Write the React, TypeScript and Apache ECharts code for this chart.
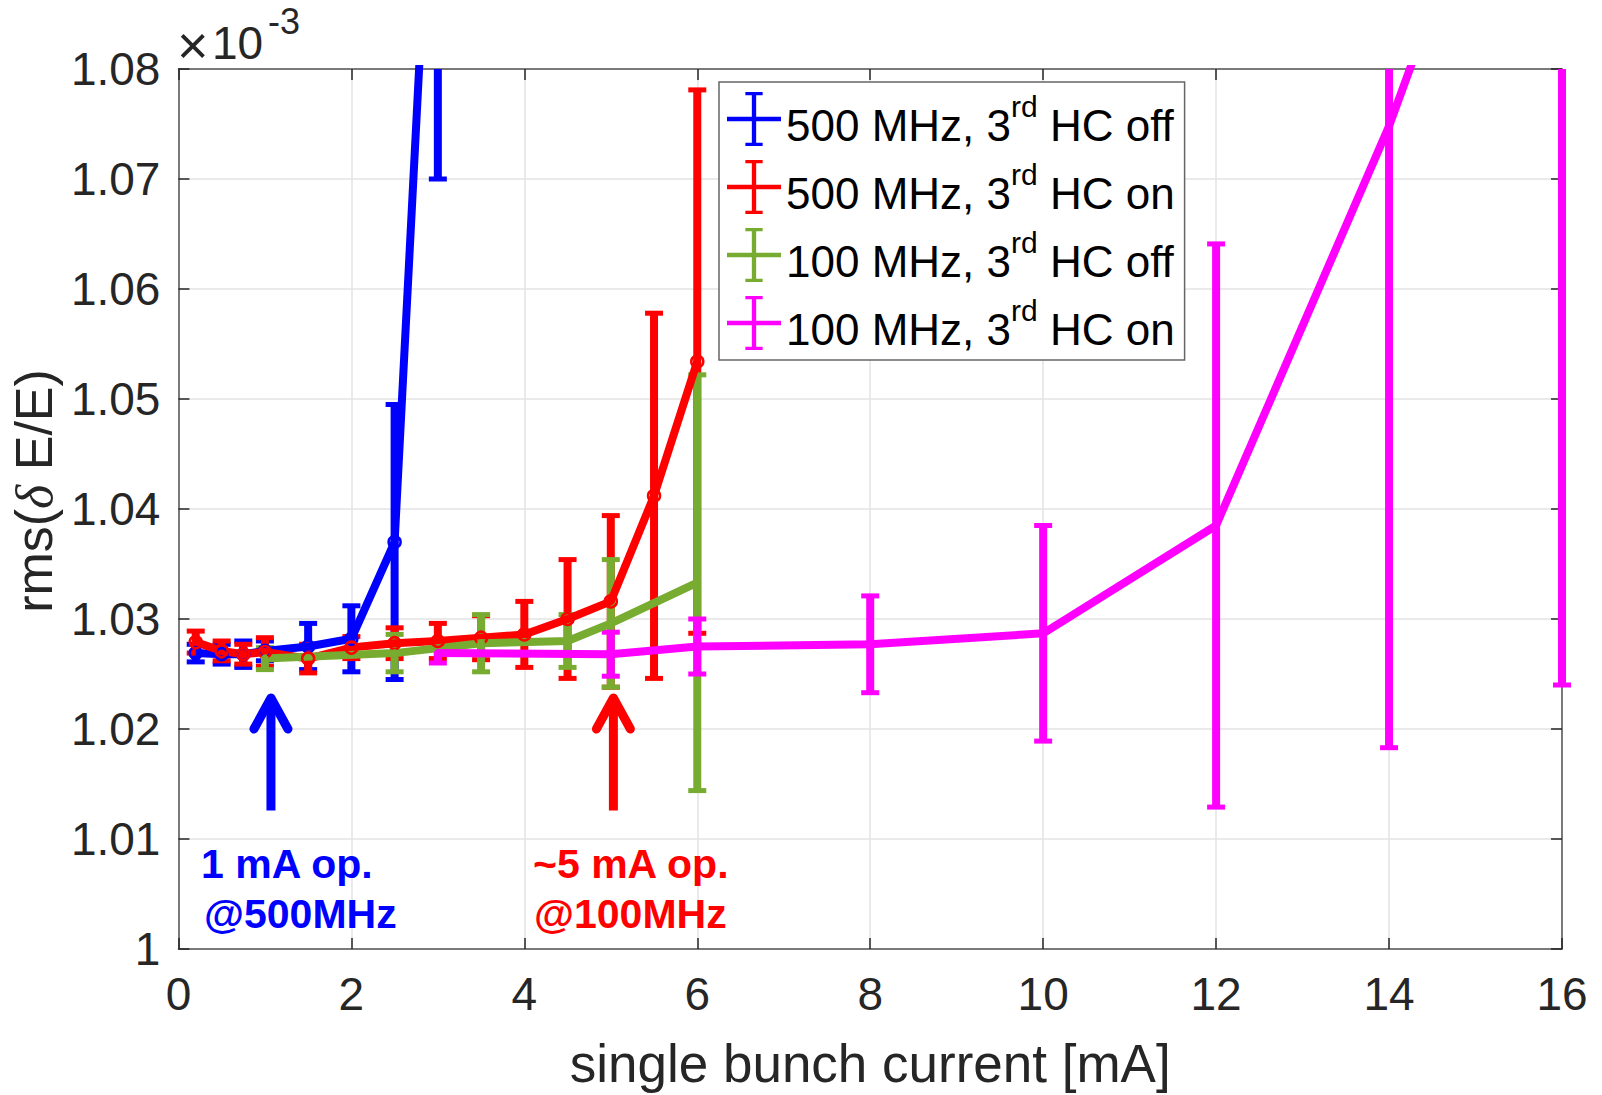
import React, { useEffect, useRef } from 'react';
import * as echarts from 'echarts';

// ---- data (values in units of 1e-3) ----
const blueX = [0.2, 0.5, 0.75, 1, 1.5, 2, 2.5, 3];
const blueY = [1.0269, 1.0268, 1.0268, 1.0271, 1.0275, 1.0282, 1.037, 1.113];
const blueErr = [0.0008, 0.0009, 0.0012, 0.0009, 0.0021, 0.003, 0.0125, 0.043];

const redX = [0.2, 0.5, 0.75, 1, 1.5, 2, 2.5, 3, 3.5, 4, 4.5, 5, 5.5, 6];
const redY = [1.0279, 1.0271, 1.0268, 1.027, 1.0264, 1.0274, 1.0278, 1.028, 1.0283, 1.0286, 1.03, 1.0316, 1.0412, 1.0534];
const redErr = [0.001, 0.0009, 0.0009, 0.0013, 0.0013, 0.001, 0.0014, 0.0016, 0.002, 0.003, 0.0054, 0.0078, 0.0166, 0.0247];

const greenX = [1, 2.5, 3.5, 4.5, 5, 6];
const greenY = [1.0264, 1.0269, 1.0278, 1.028, 1.0296, 1.0333];
const greenErr = [0.001, 0.0017, 0.0026, 0.0024, 0.0058, 0.0189];

const magX = [3, 5, 6, 8, 10, 12, 14, 16];
const magY = [1.0269, 1.0268, 1.0275, 1.0277, 1.0287, 1.0385, 1.0748, 1.118];
const magErr = [0.0009, 0.002, 0.0025, 0.0044, 0.0098, 0.0256, 0.0565, 0.094];

const seriesNames = ['500 MHz, 3rd HC off', '500 MHz, 3rd HC on', '100 MHz, 3rd HC off', '100 MHz, 3rd HC on'];
const legendRich = [
  '{a|500 MHz, 3}{s|rd}{a| HC off}',
  '{a|500 MHz, 3}{s|rd}{a| HC on}',
  '{a|100 MHz, 3}{s|rd}{a| HC off}',
  '{a|100 MHz, 3}{s|rd}{a| HC on}',
];
const colors = ['#0000ff', '#ff0000', '#77ac30', '#ff00ff'];

const xMin = 0, xMax = 16, xInterval = 2;
const yMin = 1.0, yMax = 1.08, yInterval = 0.01;

// annotation arrows: x position, base y, tip y
const arrowX = [1.07, 5.03];
const arrowBaseY = 1.0126;
const arrowTipY = 1.023;
const arrowColors = ['#0000ff', '#ff0000'];

const FONT = '"Liberation Sans", Arial, Helvetica, sans-serif';
const AXIS_COLOR = '#262626';

const ERRBAR_ICON = 'path://M0,46L100,46L100,54L0,54Z M46,0L54,0L54,100L46,100Z M34,0L66,0L66,6L34,6Z M34,94L66,94L66,100L34,100Z';

function errorSeries(name: string, color: string, xs: number[], ys: number[], es: number[]) {
  return {
    type: 'custom',
    name: name + ' error',
    xAxisIndex: 0,
    yAxisIndex: 0,
    data: xs.map((x, i) => [x, ys[i], es[i]]),
    encode: { x: 0, y: 1 },
    clip: false,
    silent: true,
    renderItem: (params: any, api: any) => {
      const x = api.value(0);
      const y = api.value(1);
      const e = api.value(2);
      const cs = params.coordSys;
      const top = cs.y;
      const bottom = cs.y + cs.height;
      const p1 = api.coord([x, y + e]);
      const p2 = api.coord([x, y - e]);
      const y1 = Math.max(p1[1], top);
      const y2 = Math.min(p2[1], bottom);
      const children: any[] = [];
      if (y2 > y1) {
        children.push({
          type: 'line',
          shape: { x1: p1[0], y1, x2: p1[0], y2 },
          style: { stroke: color, lineWidth: 8 },
        });
      }
      if (p1[1] >= top && p1[1] <= bottom) {
        children.push({
          type: 'line',
          shape: { x1: p1[0] - 9, y1: p1[1], x2: p1[0] + 9, y2: p1[1] },
          style: { stroke: color, lineWidth: 5 },
        });
      }
      if (p2[1] <= bottom && p2[1] >= top) {
        children.push({
          type: 'line',
          shape: { x1: p2[0] - 9, y1: p2[1], x2: p2[0] + 9, y2: p2[1] },
          style: { stroke: color, lineWidth: 5 },
        });
      }
      return { type: 'group', children };
    },
  };
}

function lineSeries(name: string, color: string, xs: number[], ys: number[], hollow: boolean) {
  return {
    type: 'line',
    name,
    xAxisIndex: 0,
    yAxisIndex: 0,
    data: xs.map((x, i) => [x, ys[i]]),
    clip: true,
    symbol: 'circle',
    symbolSize: hollow ? 12 : 8,
    showSymbol: true,
    itemStyle: hollow
      ? { color: 'rgba(0,0,0,0)', borderColor: color, borderWidth: 2.5 }
      : { color, borderWidth: 0 },
    lineStyle: { color, width: 8 },
    color,
  };
}

export default function App() {
  const ref = useRef<HTMLDivElement>(null);
  useEffect(() => {
    if (!ref.current) return;
    const chart = echarts.init(ref.current, undefined, { renderer: 'svg' });
    const sets = [
      [blueX, blueY, blueErr, true],
      [redX, redY, redErr, true],
      [greenX, greenY, greenErr, false],
      [magX, magY, magErr, false],
    ] as any[];
    const series: any[] = [];
    sets.forEach((s, i) => {
      series.push(errorSeries(seriesNames[i], colors[i], s[0], s[1], s[2]));
      series.push(lineSeries(seriesNames[i], colors[i], s[0], s[1], s[3]));
    });

    const axisCommon = {
      axisLine: { show: true, onZero: false, lineStyle: { color: '#555', width: 1.5 } },
      axisTick: { show: true, inside: true, length: 11, lineStyle: { color: AXIS_COLOR, width: 1.5 } },
    };

    chart.setOption({
      animation: false,
      backgroundColor: '#ffffff',
      grid: { left: 177, right: 40, top: 69, bottom: 143, containLabel: false },
      xAxis: [
        {
          type: 'value', min: xMin, max: xMax, interval: xInterval, position: 'bottom',
          ...axisCommon,
          axisLabel: { fontSize: 46, fontFamily: FONT, color: AXIS_COLOR, margin: 22 },
          splitLine: { show: true, lineStyle: { color: '#e3e3e3', width: 1.5 } },
          name: 'single bunch current [mA]',
          nameLocation: 'middle',
          nameGap: 88,
          nameTextStyle: { fontSize: 53, fontFamily: FONT, color: AXIS_COLOR },
        },
        {
          type: 'value', min: xMin, max: xMax, interval: xInterval, position: 'top',
          ...axisCommon,
          axisLabel: { show: false },
          splitLine: { show: false },
        },
      ],
      yAxis: [
        {
          type: 'value', min: yMin, max: yMax, interval: yInterval, position: 'left',
          ...axisCommon,
          axisLabel: {
            fontSize: 46, fontFamily: FONT, color: AXIS_COLOR, margin: 18,
            formatter: (v: number) => (Math.abs(v - 1) < 1e-9 ? '1' : v.toFixed(2)),
          },
          splitLine: { show: true, lineStyle: { color: '#e3e3e3', width: 1.5 } },
          name: '{a|rms(}{d|δ}{a| E/E)}',
          nameLocation: 'middle',
          nameGap: 112,
          nameRotate: 90,
          nameTextStyle: {
            padding: [0, 0, 0, 36],
            rich: {
              a: { fontSize: 52, fontFamily: FONT, color: AXIS_COLOR },
              d: { fontSize: 52, fontFamily: '"Liberation Serif", serif', fontStyle: 'italic', color: AXIS_COLOR },
            },
          },
        },
        {
          type: 'value', min: yMin, max: yMax, interval: yInterval, position: 'right',
          ...axisCommon,
          axisLabel: { show: false },
          splitLine: { show: false },
        },
      ],
      legend: {
        show: true,
        orient: 'vertical',
        left: 719,
        top: 82,
        padding: [9, 10, 9, 8],
        itemGap: 12,
        itemWidth: 54,
        itemHeight: 56,
        backgroundColor: '#ffffff',
        borderColor: '#666',
        borderWidth: 1.5,
        selectedMode: false,
        data: seriesNames.map((n, i) => ({ name: n, icon: ERRBAR_ICON, itemStyle: { color: colors[i], borderWidth: 0 } })),
        formatter: (name: string) => legendRich[seriesNames.indexOf(name)],
        textStyle: {
          color: '#000',
          rich: {
            a: { fontSize: 44, fontFamily: FONT, color: '#000', lineHeight: 56, verticalAlign: 'bottom' },
            s: { fontSize: 30, fontFamily: FONT, color: '#000', verticalAlign: 'top' },
          },
        },
      },
      series,
    });

    const gfx: any[] = [];
    arrowX.forEach((ax, i) => {
      const tip = chart.convertToPixel({ xAxisIndex: 0, yAxisIndex: 0 }, [ax, arrowTipY]) as number[];
      const base = chart.convertToPixel({ xAxisIndex: 0, yAxisIndex: 0 }, [ax, arrowBaseY]) as number[];
      const c = arrowColors[i];
      gfx.push({
        type: 'line', silent: true, z: 100,
        shape: { x1: base[0], y1: base[1], x2: tip[0], y2: tip[1] + 3 },
        style: { stroke: c, lineWidth: 9 },
      });
      gfx.push({
        type: 'polyline', silent: true, z: 100,
        shape: { points: [[tip[0] - 17, tip[1] + 33], [tip[0], tip[1] + 2], [tip[0] + 17, tip[1] + 33]] },
        style: { stroke: c, lineWidth: 9, fill: 'none', lineCap: 'round', lineJoin: 'round' },
      });
    });
    const annot = [
      { text: '1 mA op.', x: 201, y: 864, color: '#0000ff' },
      { text: '@500MHz', x: 204, y: 914, color: '#0000ff' },
      { text: '~5 mA op.', x: 533, y: 864, color: '#ff0000' },
      { text: '@100MHz', x: 534, y: 914, color: '#ff0000' },
    ];
    annot.forEach((a) => {
      gfx.push({
        type: 'text', silent: true, z: 100, x: a.x, y: a.y,
        style: { text: a.text, fill: a.color, font: `bold 41px ${FONT}`, verticalAlign: 'middle', align: 'left' },
      });
    });
    gfx.push({
      type: 'text', silent: true, x: 177, y: 45,
      style: { text: '×', fill: AXIS_COLOR, font: `54px ${FONT}`, verticalAlign: 'middle', align: 'left' },
    });
    gfx.push({
      type: 'text', silent: true, x: 212, y: 43,
      style: { text: '10', fill: AXIS_COLOR, font: `46px ${FONT}`, verticalAlign: 'middle', align: 'left' },
    });
    gfx.push({
      type: 'text', silent: true, x: 268, y: 21,
      style: { text: '-3', fill: AXIS_COLOR, font: `36px ${FONT}`, verticalAlign: 'middle', align: 'left' },
    });
    chart.setOption({ graphic: gfx });

    return () => chart.dispose();
  }, []);
  return <div ref={ref} style={{ position: 'absolute', left: 0, top: 0, width: 1602, height: 1095 }} />;
}
